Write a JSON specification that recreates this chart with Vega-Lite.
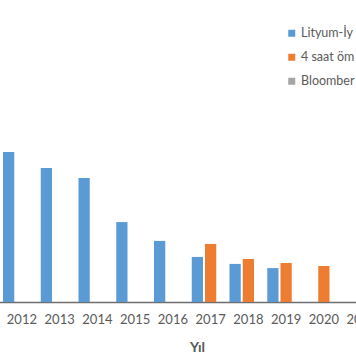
{
  "$schema": "https://vega.github.io/schema/vega-lite/v6.json",
  "width": 356,
  "height": 302,
  "autosize": {"type": "none"},
  "padding": {"left": 0, "top": 0, "right": 0, "bottom": 62},
  "background": "white",
  "config": {
    "view": {"stroke": null},
    "font": "Lato"
  },
  "data": {
    "values": [
      {"yil": 2012, "seri": "Lityum-İy", "deger": 646},
      {"yil": 2013, "seri": "Lityum-İy", "deger": 577},
      {"yil": 2014, "seri": "Lityum-İy", "deger": 534},
      {"yil": 2015, "seri": "Lityum-İy", "deger": 344},
      {"yil": 2016, "seri": "Lityum-İy", "deger": 263},
      {"yil": 2017, "seri": "Lityum-İy", "deger": 194},
      {"yil": 2017, "seri": "4 saat öm", "deger": 250},
      {"yil": 2018, "seri": "Lityum-İy", "deger": 164},
      {"yil": 2018, "seri": "4 saat öm", "deger": 185},
      {"yil": 2019, "seri": "Lityum-İy", "deger": 146},
      {"yil": 2019, "seri": "4 saat öm", "deger": 168},
      {"yil": 2020, "seri": "4 saat öm", "deger": 155}
    ]
  },
  "mark": {"type": "bar"},
  "encoding": {
    "x": {
      "field": "yil",
      "type": "ordinal",
      "scale": {
        "domain": [2011, 2012, 2013, 2014, 2015, 2016, 2017, 2018, 2019, 2020, 2021],
        "range": [-34.75, 380.5],
        "paddingInner": 0,
        "paddingOuter": 0
      },
      "axis": {
        "title": "Yıl",
        "titleFont": "Lato",
        "titleFontSize": 14,
        "titleFontWeight": "bold",
        "titleColor": "#595959",
        "titleX": 197,
        "titleY": 45,
        "titleBaseline": "middle",
        "titleAnchor": null,
        "labelAngle": 0,
        "labelExpr": "datum.value == 2011 ? '' : datum.label",
        "labelFont": "Lato",
        "labelFontSize": 13,
        "labelColor": "#595959",
        "labelPadding": 11,
        "ticks": false,
        "domainColor": "#6e6e6e",
        "domainWidth": 1.3,
        "grid": false
      }
    },
    "xOffset": {
      "field": "seri",
      "scale": {
        "domain": ["Lityum-İy", "4 saat öm", "Bloomber"],
        "paddingInner": 0.15,
        "paddingOuter": 0
      }
    },
    "y": {
      "field": "deger",
      "type": "quantitative",
      "scale": {"domain": [0, 1300], "nice": false},
      "axis": null
    },
    "color": {
      "field": "seri",
      "type": "nominal",
      "scale": {
        "domain": ["Lityum-İy", "4 saat öm", "Bloomber"],
        "range": ["#5B9BD5", "#ED7D31", "#A5A5A5"]
      },
      "legend": {
        "title": null,
        "orient": "none",
        "legendX": 285.5,
        "legendY": 27,
        "symbolType": "square",
        "symbolSize": 49,
        "symbolStrokeWidth": 0,
        "labelFont": "Lato",
        "labelFontSize": 12.5,
        "labelColor": "#595959",
        "labelOffset": 3,
        "rowPadding": 11,
        "labelLimit": 400,
        "padding": 0
      }
    }
  }
}
